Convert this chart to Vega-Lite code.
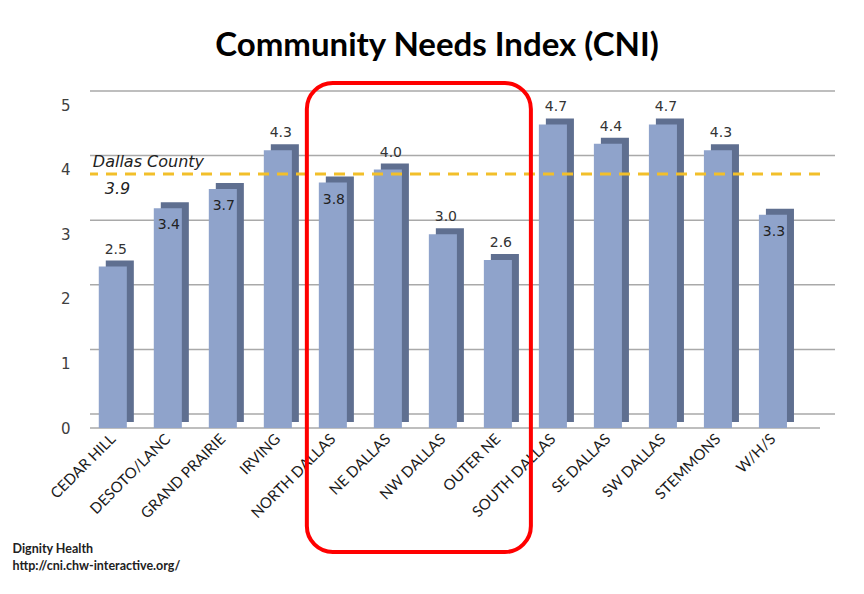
{
  "$schema": "https://vega.github.io/schema/vega-lite/v6.json",
  "width": 730,
  "height": 323,
  "autosize": {"type": "none"},
  "padding": {"left": 90, "top": 105, "right": 44, "bottom": 166},
  "background": "white",
  "config": {"view": {"stroke": null}},
  "title": {"text": "Community Needs Index (CNI)", "font": "Lato", "fontSize": 33, "fontWeight": "bold", "color": "#000000", "anchor": "middle", "frame": "group", "dx": -18, "offset": 18},
  "datasets": {
    "cni": [
      {"area": "CEDAR HILL", "v": 2.5},
      {"area": "DESOTO/LANC", "v": 3.4},
      {"area": "GRAND PRAIRIE", "v": 3.7},
      {"area": "IRVING", "v": 4.3},
      {"area": "NORTH DALLAS", "v": 3.8},
      {"area": "NE DALLAS", "v": 4.0},
      {"area": "NW DALLAS", "v": 3.0},
      {"area": "OUTER NE", "v": 2.6},
      {"area": "SOUTH DALLAS", "v": 4.7},
      {"area": "SE DALLAS", "v": 4.4},
      {"area": "SW DALLAS", "v": 4.7},
      {"area": "STEMMONS", "v": 4.3},
      {"area": "W/H/S", "v": 3.3}
    ],
    "grid": [{"g": 0}, {"g": 1}, {"g": 2}, {"g": 3}, {"g": 4}, {"g": 5}],
    "county": [{"name": "Dallas County", "v": 3.9, "area": "CEDAR HILL"}],
    "box": [{"from": "NORTH DALLAS", "to": "OUTER NE", "top": 5.34, "bottom": -1.92}]
  },
  "layer": [
    {
      "data": {"name": "grid"},
      "mark": {"type": "rule", "color": "#a9a9a9", "strokeWidth": 1.5, "xOffset": 15, "x2Offset": 15, "yOffset": -14},
      "encoding": {"y": {"field": "g", "type": "quantitative", "scale": {"domain": [0, 5]}}}
    },
    {
      "data": {"name": "grid"},
      "transform": [{"filter": "datum.g == 0"}],
      "mark": {"type": "rule", "color": "#a9a9a9", "strokeWidth": 1.5, "x2Offset": -10},
      "encoding": {"y": {"field": "g", "type": "quantitative"}}
    },
    {
      "data": {"name": "cni"},
      "mark": {"type": "bar", "color": "#5f6f90", "xOffset": 7, "yOffset": -6, "y2Offset": -6},
      "encoding": {
        "x": {"field": "area", "type": "nominal", "sort": null},
        "y": {"field": "v", "type": "quantitative"}
      }
    },
    {
      "data": {"name": "cni"},
      "mark": {"type": "bar", "color": "#8fa3cb"},
      "encoding": {
        "x": {
          "field": "area", "type": "nominal", "sort": null,
          "scale": {
            "domain": ["CEDAR HILL", "DESOTO/LANC", "GRAND PRAIRIE", "IRVING", "NORTH DALLAS", "NE DALLAS", "NW DALLAS", "OUTER NE", "SOUTH DALLAS", "SE DALLAS", "SW DALLAS", "STEMMONS", "W/H/S"],
            "paddingInner": 0.49, "paddingOuter": 0.38, "align": 0.21
          },
          "axis": {
            "labelAngle": -45, "labelFont": "Lato", "labelFontSize": 15, "labelColor": "#1a1a1a",
            "labelPadding": 8, "domain": false, "ticks": false,
            "title": ["Dignity Health", "http://cni.chw-interactive.org/"],
            "titleFont": "Lato", "titleFontSize": 12.5, "titleFontWeight": "bold", "titleColor": "#222222",
            "titleAnchor": "start", "titleAlign": "left", "titleBaseline": "top",
            "titleX": -78, "titleY": 114, "titleLineHeight": 17
          }
        },
        "y": {
          "field": "v", "type": "quantitative", "scale": {"domain": [0, 5]},
          "axis": {
            "values": [0, 1, 2, 3, 4, 5], "format": "d", "grid": false, "domain": false, "ticks": false,
            "labelFont": "DejaVu Sans", "labelFontSize": 15, "labelColor": "#404040", "labelPadding": 20, "title": null
          }
        }
      }
    },
    {
      "data": {"name": "cni"},
      "transform": [{"filter": "!(datum.v > 3.2 && datum.v < 3.9)"}],
      "mark": {"type": "text", "font": "DejaVu Sans", "fontSize": 14, "color": "#333333", "baseline": "bottom", "dy": -10, "dx": 3},
      "encoding": {
        "x": {"field": "area", "type": "nominal", "sort": null},
        "y": {"field": "v", "type": "quantitative"},
        "text": {"field": "v", "type": "quantitative", "format": ".1f"}
      }
    },
    {
      "data": {"name": "cni"},
      "transform": [{"filter": "datum.v > 3.2 && datum.v < 3.9"}],
      "mark": {"type": "text", "font": "DejaVu Sans", "fontSize": 14, "color": "#222222", "baseline": "top", "dy": 10, "dx": 1},
      "encoding": {
        "x": {"field": "area", "type": "nominal", "sort": null},
        "y": {"field": "v", "type": "quantitative"},
        "text": {"field": "v", "type": "quantitative", "format": ".1f"}
      }
    },
    {
      "data": {"name": "county"},
      "mark": {"type": "rule", "color": "#f2bf2a", "strokeWidth": 3, "strokeDash": [11, 8], "yOffset": -2, "x2Offset": 15},
      "encoding": {"y": {"field": "v", "type": "quantitative"}}
    },
    {
      "data": {"name": "county"},
      "mark": {"type": "text", "font": "DejaVu Sans", "fontSize": 16, "fontStyle": "italic", "color": "#222222", "align": "left", "baseline": "bottom", "dx": -20, "dy": -6},
      "encoding": {
        "x": {"field": "area", "type": "nominal", "sort": null},
        "y": {"field": "v", "type": "quantitative"},
        "text": {"field": "name"}
      }
    },
    {
      "data": {"name": "county"},
      "mark": {"type": "text", "font": "DejaVu Sans", "fontSize": 16, "fontStyle": "italic", "color": "#222222", "align": "left", "baseline": "top", "dx": -8, "dy": 5},
      "encoding": {
        "x": {"field": "area", "type": "nominal", "sort": null},
        "y": {"field": "v", "type": "quantitative"},
        "text": {"field": "v", "type": "quantitative", "format": ".1f"}
      }
    },
    {
      "data": {"name": "box"},
      "mark": {"type": "rect", "filled": false, "stroke": "#ff0000", "strokeWidth": 4, "cornerRadius": 26, "xOffset": -26, "x2Offset": 33},
      "encoding": {
        "x": {"field": "from", "type": "nominal", "sort": null},
        "x2": {"field": "to"},
        "y": {"field": "top", "type": "quantitative"},
        "y2": {"field": "bottom"}
      }
    }
  ]
}
